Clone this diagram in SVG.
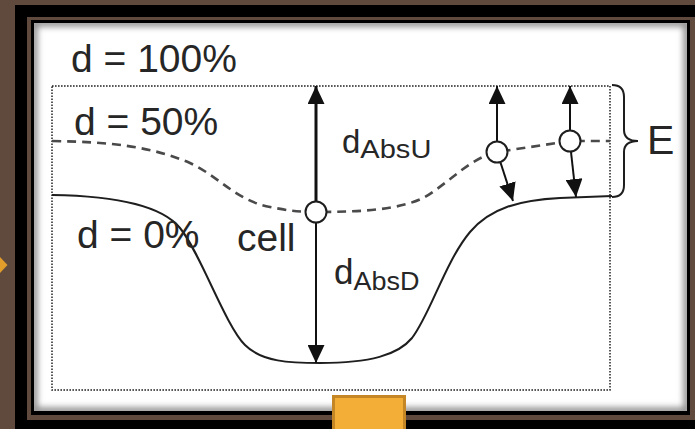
<svg xmlns="http://www.w3.org/2000/svg" width="695" height="429" viewBox="0 0 695 429">
  <style>
    .lbl { font-family: "Liberation Sans", Arial, sans-serif; fill: #262626; }
    .big { font-size: 39px; }
    .bound { fill: none; stroke: #222; stroke-width: 1.5; stroke-dasharray: 1.6 1.4; }
    .level0 { fill: none; stroke: #1e1e1e; stroke-width: 2; }
    .level50 { fill: none; stroke: #4a4a4a; stroke-width: 2.6; stroke-dasharray: 9 6; }
    .arrow { stroke: #111; stroke-width: 2; fill: none; marker-end: url(#head); }
    .node { fill: #fff; stroke: #1e1e1e; stroke-width: 2; }
  </style>
  <defs>
    <marker id="head" viewBox="0 0 18 17" refX="18" refY="8.5" markerWidth="18" markerHeight="17" markerUnits="userSpaceOnUse" orient="auto">
      <path d="M0,0 L18,8.5 L0,17 Z" fill="#111"/>
    </marker>
    <clipPath id="panelClip">
      <rect x="34" y="23" width="653" height="388"/>
    </clipPath>
    <filter id="soft" x="-5%" y="-5%" width="110%" height="110%">
      <feGaussianBlur stdDeviation="3"/>
    </filter>
  </defs>

  <!-- frame -->
  <rect width="695" height="429" fill="#5f4a3d"/>
  <rect x="15" y="5" width="680" height="424" fill="#000"/>
  <rect x="27" y="17" width="668" height="403" fill="#5f4a3d"/>
  <rect x="31" y="20" width="659" height="395" fill="#000"/>
  <rect x="34" y="23" width="653" height="388" fill="#fff"/>
  <rect x="34" y="23" width="653" height="388" fill="none" stroke="#8a8a8a" stroke-width="7" filter="url(#soft)" clip-path="url(#panelClip)"/>

  <!-- domain boundary -->
  <rect class="bound" x="52" y="86" width="558" height="304"/>

  <!-- level curves -->
  <path class="level0" d="M52,195 C120,196 163,207 180,228 C200,252 225,325 245,345 C262,362 290,363 320,363 C370,363 398,355 412,338 C430,315 445,262 470,232 C490,208 520,200 560,198 L612,196"/>
  <path class="level50" d="M52,141 C110,142 150,146 190,163 C220,177 235,200 270,207 C290,211 300,212 316,212 C360,212 400,210 425,197 C450,182 470,158 497,152 L570,141 L610,141"/>

  <!-- E brace -->
  <path d="M612,85 Q624,85 624,97 L624,130 Q624,141 638,141 Q624,141 624,152 L624,185 Q624,197 612,197" fill="none" stroke="#1e1e1e" stroke-width="2"/>

  <g id="connectors">
    <line class="arrow" x1="316" y1="201" x2="316" y2="86" style="stroke-width:3"/>
    <line class="arrow" x1="316" y1="223" x2="316" y2="363"/>
    <line class="arrow" x1="497" y1="141" x2="497" y2="86"/>
    <line class="arrow" x1="500.5" y1="162.5" x2="513" y2="201"/>
    <line class="arrow" x1="570" y1="130" x2="570" y2="86"/>
    <line class="arrow" x1="571" y1="152" x2="576" y2="197"/>
  </g>

  <g id="cell-center"><circle class="node" cx="316" cy="212" r="10.5"/></g>
  <g id="cell-slope"><circle class="node" cx="497" cy="152" r="10.5"/></g>
  <g id="cell-edge"><circle class="node" cx="570" cy="141" r="10.5"/></g>

  <!-- labels -->
  <text class="lbl big" x="71" y="72">d = 100%</text>
  <text class="lbl big" x="74" y="135">d = 50%</text>
  <text class="lbl big" x="77" y="248">d = 0%</text>
  <text class="lbl big" x="237" y="251">cell</text>
  <text class="lbl" x="342" y="153" style="font-size:33px">d<tspan dy="5" style="font-size:25px" textLength="71" lengthAdjust="spacingAndGlyphs">AbsU</tspan></text>
  <text class="lbl" x="334" y="284" style="font-size:35px">d<tspan dy="6" style="font-size:25px" textLength="66" lengthAdjust="spacingAndGlyphs">AbsD</tspan></text>
  <text class="lbl" x="647" y="154" style="font-size:41px">E</text>

  <!-- page navigation marks -->
  <path d="M0,257 L7.5,265 L0,273 Z" fill="#e29d2a"/>
  <rect x="333.5" y="396.5" width="71" height="40" fill="#f2ae37" stroke="#c58726" stroke-width="3"/>
</svg>
